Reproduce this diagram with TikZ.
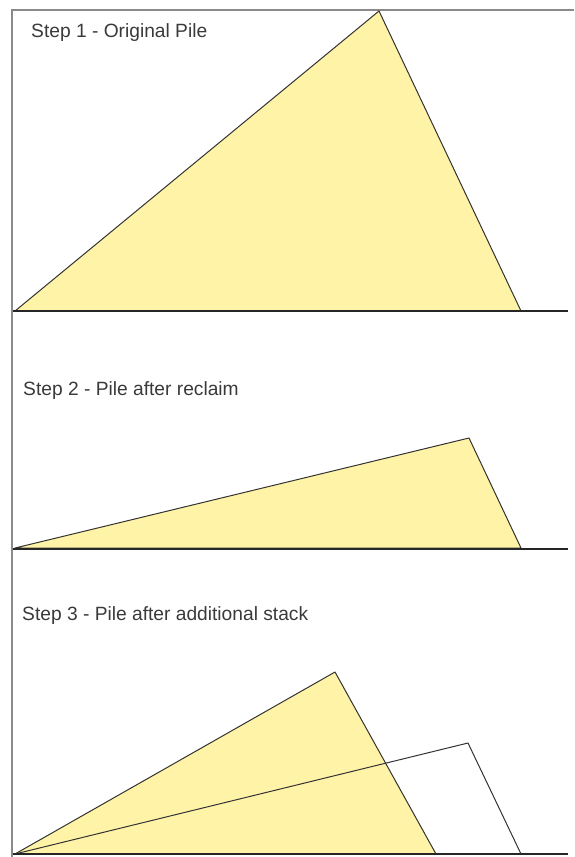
\documentclass[tikz,border=0pt]{standalone}
\usepackage{fontspec}
\setmainfont{Liberation Sans}
\usepackage{xcolor}
\usepackage{tikz}
\usetikzlibrary{positioning,calc}
\definecolor{PileYellow}{HTML}{FFF3A8}
\definecolor{PileEdge}{HTML}{333333}
\definecolor{FrameGrey}{HTML}{8A8A8A}
\definecolor{LabelGrey}{HTML}{3A3A3A}
\begin{document}
\begin{tikzpicture}[
    x=1pt, y=-1pt,
    pile/.style={fill=PileYellow, draw=PileEdge, line width=1pt, line join=round},
    oldpile/.style={draw=PileEdge, line width=1pt, line join=round},
    ground/.style={draw=black!85, line width=2.8pt},
    frame/.style={draw=FrameGrey, line width=1.2pt},
    steplabel/.style={anchor=base west, inner sep=0pt, text=LabelGrey,
      font=\fontsize{19.2}{23}\selectfont}
  ]
    \useasboundingbox (0,0) rectangle (574,857);
    % frame
    \draw[frame] (574,10) -- (12,10) -- (12,857);
    % step 1
    \node[steplabel] (lab1) at (31,37) {Step 1 - Original Pile};
    \coordinate (a1) at (15,311);
    \coordinate (b1) at (379,11);
    \coordinate (c1) at (521,311);
    \draw[pile] (a1) -- (b1) -- (c1) -- cycle;
    \draw[ground] (13,311) -- (568,311);
    % step 2
    \node[steplabel] (lab2) at (23,395) {Step 2 - Pile after reclaim};
    \coordinate (a2) at (15,548);
    \coordinate (b2) at (469,438);
    \coordinate (c2) at (521,548);
    \draw[pile] (a2) -- (b2) -- (c2) -- cycle;
    \draw[ground] (13,549) -- (568,549);
    % step 3
    \node[steplabel] (lab3) at (22,620) {Step 3 - Pile after additional stack};
    \coordinate (a3) at (15,854);
    \coordinate (b3) at (335,672);
    \coordinate (c3) at (436,854);
    \coordinate (d3) at (468,743);
    \coordinate (e3) at (521,854);
    \draw[pile] (a3) -- (b3) -- (c3) -- cycle;
    \draw[oldpile] (a3) -- (d3) -- (e3);
    \draw[ground] (13,854) -- (568,854);
\end{tikzpicture}
\end{document}
